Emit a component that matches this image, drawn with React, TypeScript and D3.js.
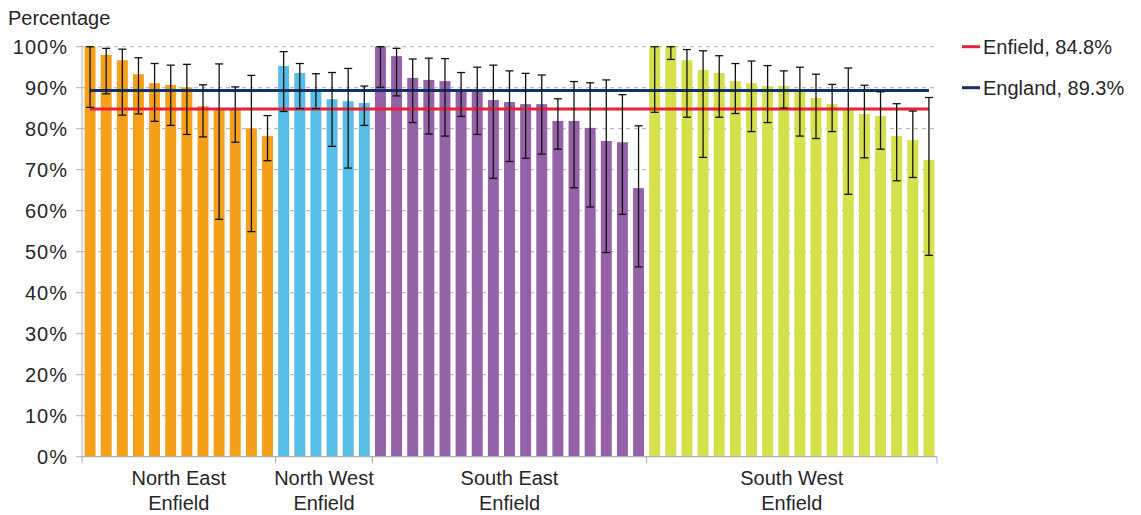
import React from "react";
import * as d3 from "d3";

const groups = ["North East Enfield", "North West Enfield", "South East Enfield", "South West Enfield"];
const groupColors = ["#F5A01B", "#57BEE8", "#9562AA", "#D6E04B"];

const neValues = [100, 98.0, 96.7, 93.3, 91.1, 90.7, 90.1, 85.5, 84.6, 84.7, 80.1, 78.2];
const neLow = [85.2, 88.5, 83.3, 83.6, 81.8, 80.8, 78.6, 78.0, 57.9, 76.7, 54.9, 72.2];
const neHigh = [100, 99.6, 99.4, 97.3, 95.9, 95.5, 95.7, 90.7, 95.8, 90.2, 93.0, 83.2];

const nwValues = [95.3, 93.6, 89.4, 87.2, 86.7, 86.3];
const nwLow = [84.2, 84.9, 84.9, 75.7, 70.4, 80.8];
const nwHigh = [98.8, 95.9, 93.4, 93.7, 94.7, 90.4];

const seValues = [100, 97.7, 92.4, 91.9, 91.6, 89.4, 89.3, 87.0, 86.5, 86.0, 86.0, 81.9, 81.9, 80.2, 77.0, 76.7, 65.5];
const seLow = [90.1, 88.0, 81.5, 78.7, 78.2, 83.0, 78.6, 67.9, 72.0, 72.8, 73.8, 75.0, 65.6, 60.9, 49.8, 59.1, 46.3];
const seHigh = [100, 99.6, 97.0, 97.2, 97.1, 93.7, 95.0, 95.5, 94.1, 93.5, 93.1, 87.3, 91.5, 91.2, 91.9, 88.3, 80.7];

const swValues = [100, 100, 96.7, 94.3, 93.6, 91.6, 91.1, 90.4, 90.4, 89.4, 87.5, 86.0, 84.8, 83.6, 83.1, 78.2, 77.2, 72.4];
const swLow = [84.0, 96.9, 82.8, 73.0, 82.8, 83.7, 79.3, 81.5, 85.0, 78.2, 77.6, 79.3, 64.0, 72.9, 75.0, 67.3, 68.1, 49.1];
const swHigh = [100, 100, 99.3, 99.0, 97.8, 95.9, 96.5, 95.4, 94.1, 95.0, 93.3, 90.8, 94.8, 90.6, 89.0, 86.1, 84.3, 87.6];

const yTicks = [0, 10, 20, 30, 40, 50, 60, 70, 80, 90, 100];
const enfieldValue = 84.8;
const englandValue = 89.3;
const legendItems = [
  { label: "Enfield, 84.8%", color: "#E8203A" },
  { label: "England, 89.3%", color: "#13306B" },
];

const groupValues = [neValues, nwValues, seValues, swValues];
const groupLow = [neLow, nwLow, seLow, swLow];
const groupHigh = [neHigh, nwHigh, seHigh, swHigh];

type Bar = { id: string; g: number; v: number; lo: number; hi: number };
const bars: Bar[] = [];
groupValues.forEach((vals, g) => {
  vals.forEach((v, i) => {
    bars.push({ id: `${g}-${i}`, g, v, lo: groupLow[g][i], hi: groupHigh[g][i] });
  });
});

export default function App() {
  const W = 1141, H = 515;
  const x0 = 82, x1 = 937;
  const yTop = 46.7, yBot = 456.7;
  const font = "'Liberation Sans', Arial, sans-serif";
  const textColor = "#262626";
  const fs = 20;

  const x = d3.scaleBand<string>().domain(bars.map((b) => b.id)).range([x0, x1]).paddingInner(0.32).paddingOuter(0.16);
  const y = d3.scaleLinear().domain([0, 100]).range([yBot, yTop]);
  const step = x.step();
  const bw = x.bandwidth();

  const counts = groupValues.map((v) => v.length);
  const bounds: number[] = [x0];
  let acc = 0;
  counts.forEach((c) => {
    acc += c;
    bounds.push(x0 + acc * step);
  });

  const firstC = (x(bars[0].id) as number) + bw / 2;
  const lastC = (x(bars[bars.length - 1].id) as number) + bw / 2;

  return (
    <svg width={W} height={H} style={{ position: "absolute", left: 0, top: 0 }} fontFamily={font}>
      <text x={8} y={25} fontSize={fs} fill={textColor}>Percentage</text>
      {yTicks.map((t) => (
        <g key={t}>
          {t > 0 && (
            <line x1={x0} x2={x1} y1={y(t)} y2={y(t)} stroke="#b0b0b0" strokeWidth={1} strokeDasharray="4 4" />
          )}
          <line x1={x0 - 6} x2={x0} y1={y(t)} y2={y(t)} stroke="#b0b0b0" strokeWidth={1} />
          <text x={68} y={y(t) + 7} fontSize={fs} letterSpacing={1} textAnchor="end" fill={textColor}>{t}%</text>
        </g>
      ))}
      {bars.map((b) => (
        <rect key={b.id} x={x(b.id)} y={y(b.v)} width={bw} height={y(0) - y(b.v)} fill={groupColors[b.g]} />
      ))}
      <line x1={x0} x2={x0} y1={yTop} y2={yBot} stroke="#b0b0b0" strokeWidth={1} />
      <line x1={x0} x2={x1} y1={yBot} y2={yBot} stroke="#b0b0b0" strokeWidth={1.2} />
      {bounds.map((bx, i) => (
        <line key={i} x1={bx} x2={bx} y1={yBot} y2={yBot + 7} stroke="#b0b0b0" strokeWidth={1} />
      ))}
      <line x1={firstC} x2={lastC} y1={y(enfieldValue)} y2={y(enfieldValue)} stroke={legendItems[0].color} strokeWidth={3} />
      <line x1={firstC} x2={lastC} y1={y(englandValue)} y2={y(englandValue)} stroke={legendItems[1].color} strokeWidth={3} />
      {bars.map((b) => {
        const cx = (x(b.id) as number) + bw / 2;
        return (
          <g key={"e" + b.id} stroke="#111" strokeWidth={1.3}>
            <line x1={cx} x2={cx} y1={y(b.hi)} y2={y(b.lo)} />
            <line x1={cx - 4} x2={cx + 4} y1={y(b.hi)} y2={y(b.hi)} />
            <line x1={cx - 4} x2={cx + 4} y1={y(b.lo)} y2={y(b.lo)} />
          </g>
        );
      })}
      {groups.map((gname, i) => {
        const cx = (bounds[i] + bounds[i + 1]) / 2;
        const parts = gname.split(" ");
        const l1 = parts.slice(0, 2).join(" ");
        const l2 = parts.slice(2).join(" ");
        return (
          <g key={gname}>
            <text x={cx} y={485} fontSize={fs} textAnchor="middle" fill={textColor}>{l1}</text>
            <text x={cx} y={510} fontSize={fs} textAnchor="middle" fill={textColor}>{l2}</text>
          </g>
        );
      })}
      {legendItems.map((it, i) => (
        <g key={it.label}>
          <line x1={962} x2={980} y1={y(100) + i * 41} y2={y(100) + i * 41} stroke={it.color} strokeWidth={3} />
          <text x={983} y={y(100) + i * 41 + 7} fontSize={fs} fill={textColor}>{it.label}</text>
        </g>
      ))}
    </svg>
  );
}
